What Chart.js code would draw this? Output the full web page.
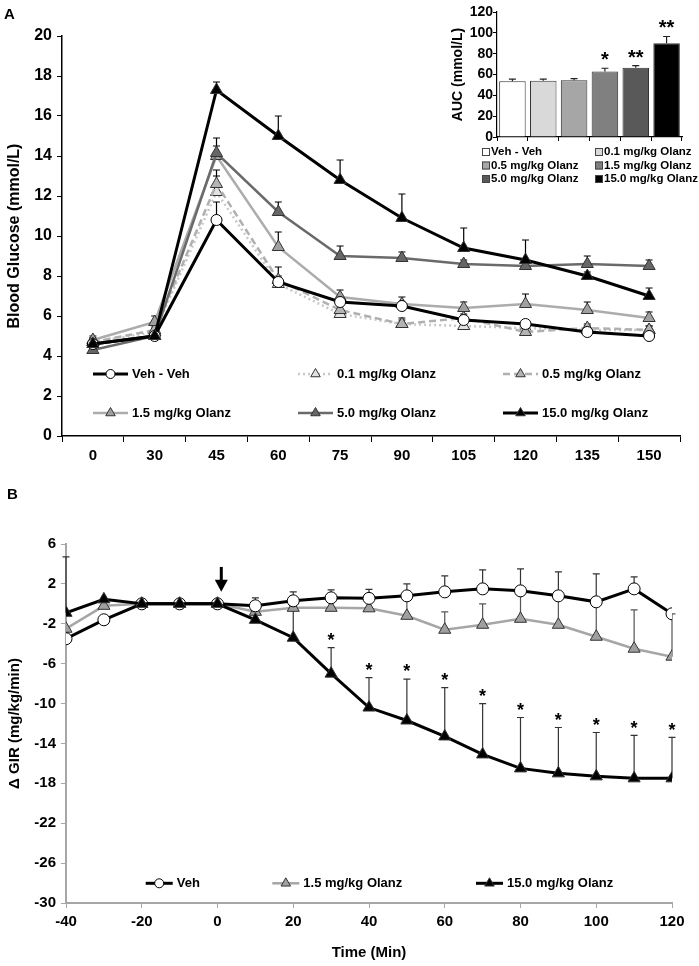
<!DOCTYPE html>
<html>
<head>
<meta charset="utf-8">
<script src="https://cdn.jsdelivr.net/npm/chart.js@4.4.0/dist/chart.umd.min.js"></script>
<style>
  body { margin: 0; background: #fff; }
  #wrap { position: relative; width: 699px; height: 966px; }
  canvas { position: absolute; }
  .lbl { position: absolute; font: bold 15px Arial, "Liberation Sans", sans-serif; line-height: 1; }
</style>
</head>
<body>
<div id="wrap">
  <canvas id="chartA" width="699" height="475" style="left:0;top:0"></canvas>
  <canvas id="chartAuc" width="259" height="195" style="left:440px;top:0"></canvas>
  <canvas id="chartB" width="699" height="491" style="left:0;top:475px"></canvas>
  <div class="lbl" style="left:4px;top:6px">A</div>
  <div class="lbl" style="left:7px;top:486px">B</div>
</div>
<script>
var FONT = 'Arial, "Liberation Sans", sans-serif';

// panel A - blood glucose
var timesA = ['0', '30', '45', '60', '75', '90', '105', '120', '135', '150'];
var vehVeh  = [4.6, 5.0, 10.8, 7.7, 6.7, 6.5, 5.8, 5.6, 5.2, 5.0];
var olz01   = [4.7, 5.2, 12.2, 7.6, 6.1, 5.6, 5.5, 5.4, 5.3, 5.3];
var olz05   = [4.7, 5.3, 12.6, 7.8, 6.3, 5.6, 5.9, 5.2, 5.4, 5.3];
var olz15   = [4.8, 5.7, 14.0, 9.45, 6.95, 6.6, 6.4, 6.6, 6.3, 5.9];
var olz50   = [4.3, 5.0, 14.15, 11.2, 9.0, 8.9, 8.6, 8.5, 8.6, 8.5];
var olz150  = [4.6, 5.0, 17.3, 15.0, 12.8, 10.9, 9.4, 8.8, 8.0, 7.0];
// top of the error bars
var vehVehErr = [4.8, 5.2, 11.7, 7.9, 6.9, 6.7, 6.0, 5.8, 5.4, 5.1];
var olz01Err  = [4.9, 5.4, 13.0, 8.0, 6.3, 5.8, 5.7, 5.6, 5.5, 5.5];
var olz05Err  = [4.9, 5.5, 13.3, 8.45, 6.6, 5.9, 6.1, 5.5, 5.6, 5.5];
var olz15Err  = [5.0, 6.0, 14.5, 10.2, 7.3, 6.95, 6.7, 7.1, 6.7, 6.2];
var olz50Err  = [4.5, 5.2, 14.9, 11.7, 9.5, 9.2, 8.8, 8.7, 9.0, 8.8];
var olz150Err = [4.8, 5.2, 17.7, 16.0, 13.8, 12.1, 10.4, 9.8, 8.2, 7.4];

// inset - AUC
var aucGroups = ['Veh - Veh', '0.1 mg/kg Olanz', '0.5 mg/kg Olanz', '1.5 mg/kg Olanz', '5.0 mg/kg Olanz', '15.0 mg/kg Olanz'];
var aucValues = [53.5, 54, 54.5, 63, 66.5, 90];
var aucErr    = [55.5, 55.5, 56, 66, 68.5, 96.5];
var aucStars  = ['', '', '', '*', '**', '**'];

// panel B - delta GIR
var timesB    = [-40, -30, -20, -10, 0, 10, 20, 30, 40, 50, 60, 70, 80, 90, 100, 110, 120];
var girVeh    = [-3.5, -1.6, 0, 0, 0, -0.2, 0.3, 0.6, 0.55, 0.8, 1.2, 1.5, 1.3, 0.8, 0.2, 1.5, -1.0];
var girVehErr = [-3.5, -1.6, 0, 0, 0, 0.6, 1.2, 1.4, 1.45, 2.0, 2.8, 3.4, 3.5, 3.2, 3.0, 2.7, -1.0];
var gir15     = [-2.5, -0.2, 0, 0, 0, -0.8, -0.4, -0.4, -0.45, -1.2, -2.6, -2.1, -1.5, -2.1, -3.3, -4.5, -5.3];
var gir15Err  = [-2.5, -0.2, 0, 0, 0, -0.8, -0.4, -0.4, -0.45, 0.8, -0.8, 0.0, 1.3, 0.8, 0.2, -0.6, -1.0];
var gir150    = [-0.9, 0.45, 0, 0, 0, -1.6, -3.4, -7.0, -10.4, -11.7, -13.3, -15.1, -16.5, -17.0, -17.3, -17.5, -17.5];
var gir150Err = [4.7, 0.45, 0, 0, 0, -1.6, -0.3, -4.4, -7.4, -7.55, -8.4, -10.0, -11.4, -12.4, -12.9, -13.2, -13.4];
var gir150Stars = ['', '', '', '', '', '', '', '*', '*', '*', '*', '*', '*', '*', '*', '*', '*'];
var arrowAt = 1, arrowFrom = 3.7, arrowTo = 1.2;

Chart.defaults.font.family = FONT;
Chart.defaults.font.weight = 'bold';
Chart.defaults.color = '#000';

function drawMark(ctx, style, x, y, r, fill, stroke) {
  ctx.beginPath();
  if (style === 'circle') {
    ctx.arc(x, y, r, 0, Math.PI * 2);
  } else {
    ctx.moveTo(x, y - r);
    ctx.lineTo(x + r * 0.866, y + r * 0.5);
    ctx.lineTo(x - r * 0.866, y + r * 0.5);
    ctx.closePath();
  }
  ctx.fillStyle = fill;
  ctx.fill();
  ctx.lineWidth = 1;
  ctx.strokeStyle = stroke;
  ctx.stroke();
}

function drawErrors(chart) {
  var ctx = chart.ctx;
  var y = chart.scales.y;
  chart.data.datasets.forEach(function(ds, i) {
    if (!ds.errTop) return;
    var meta = chart.getDatasetMeta(i);
    ctx.save();
    ctx.strokeStyle = ds.errColor || '#000';
    ctx.lineWidth = 1.2;
    meta.data.forEach(function(el, j) {
      var yt = y.getPixelForValue(ds.errTop[j]);
      if (Math.abs(yt - el.y) < 1) return;
      ctx.beginPath();
      ctx.moveTo(el.x, el.y);
      ctx.lineTo(el.x, yt);
      ctx.moveTo(el.x - 3.5, yt);
      ctx.lineTo(el.x + 3.5, yt);
      ctx.stroke();
    });
    ctx.restore();
  });
}

function drawStars(chart, size) {
  var ctx = chart.ctx;
  var y = chart.scales.y;
  chart.data.datasets.forEach(function(ds, i) {
    if (!ds.stars) return;
    var meta = chart.getDatasetMeta(i);
    ctx.save();
    ctx.font = 'bold ' + size + 'px ' + FONT;
    ctx.fillStyle = '#000';
    ctx.textAlign = 'center';
    ctx.textBaseline = 'alphabetic';
    meta.data.forEach(function(el, j) {
      if (!ds.stars[j]) return;
      ctx.fillText(ds.stars[j], el.x, y.getPixelForValue(ds.errTop[j]) - size * 0.1);
    });
    ctx.restore();
  });
}

function drawKey(ctx, ds, x, y, len) {
  ctx.save();
  ctx.strokeStyle = ds.borderColor;
  ctx.lineWidth = ds.borderWidth;
  ctx.setLineDash(ds.borderDash || []);
  ctx.beginPath();
  ctx.moveTo(x, y);
  ctx.lineTo(x + len, y);
  ctx.stroke();
  ctx.setLineDash([]);
  drawMark(ctx, ds.pointStyle, x + len / 2, y, ds.pointStyle === 'circle' ? 4.5 : 5.5, ds.pointBackgroundColor, ds.pointBorderColor);
  ctx.fillStyle = '#000';
  ctx.font = 'bold 13px ' + FONT;
  ctx.textBaseline = 'middle';
  ctx.textAlign = 'left';
  ctx.fillText(ds.label, x + len + 4, y);
  ctx.restore();
}

function lineSet(label, data, err, color, dash, style, fill, order) {
  return {
    label: label, data: data, errTop: err, order: order,
    borderColor: color, borderWidth: color === '#000' ? 3 : 2.5, borderDash: dash,
    pointStyle: style, pointRadius: style === 'circle' ? 5.5 : 7,
    pointBackgroundColor: fill, pointBorderColor: style === 'circle' ? '#000' : '#333',
    pointBorderWidth: 1, tension: 0, errColor: '#000'
  };
}

function getChartA() {
  var keyX = [93, 298, 503];
  var keyY = [374, 413];
  var ctx = document.getElementById('chartA').getContext('2d');
  new Chart(ctx, {
    type: 'line',
    data: {
      labels: timesA,
      datasets: [
        lineSet('Veh - Veh', vehVeh, vehVehErr, '#000', [], 'circle', '#fff', 1),
        lineSet('0.1 mg/kg Olanz', olz01, olz01Err, '#c8c8c8', [2, 3], 'triangle', '#e2e2e2', 5),
        lineSet('0.5 mg/kg Olanz', olz05, olz05Err, '#b0b0b0', [7, 4], 'triangle', '#b4b4b4', 4),
        lineSet('1.5 mg/kg Olanz', olz15, olz15Err, '#acacac', [], 'triangle', '#a0a0a0', 3),
        lineSet('5.0 mg/kg Olanz', olz50, olz50Err, '#6a6a6a', [], 'triangle', '#666', 2),
        lineSet('15.0 mg/kg Olanz', olz150, olz150Err, '#000', [], 'triangle', '#000', 0)
      ]
    },
    options: {
      responsive: false,
      animation: false,
      events: [],
      layout: {padding: {top: 36, right: 19, left: 0, bottom: 0}},
      plugins: {legend: {display: false}, tooltip: {enabled: false}},
      scales: {
        x: {
          offset: true,
          grid: {offset: true, drawOnChartArea: false, color: '#000', tickLength: 6},
          border: {color: '#000', width: 1.5},
          ticks: {font: {size: 15, weight: 'bold'}, color: '#000', padding: 5, maxRotation: 0},
          afterFit: function(s) { s.height = 39; }
        },
        y: {
          min: 0, max: 20,
          ticks: {stepSize: 2, font: {size: 16, weight: 'bold'}, color: '#000', padding: 5},
          grid: {drawOnChartArea: false, color: '#000', tickLength: 5},
          border: {color: '#000', width: 1.5},
          title: {display: true, text: 'Blood Glucose (mmol/L)', font: {size: 16, weight: 'bold'}, color: '#000', padding: {top: 5, bottom: 0}},
          afterFit: function(s) { s.width = 62; }
        }
      }
    },
    plugins: [{
      id: 'extrasA',
      beforeDatasetsDraw: function(chart) { drawErrors(chart); },
      afterDraw: function(chart) {
        chart.data.datasets.forEach(function(ds, i) {
          drawKey(chart.ctx, ds, keyX[i % 3], keyY[Math.floor(i / 3)], 35);
        });
      }
    }]
  });
}

function getChartAuc() {
  var colors = ['#ffffff', '#d9d9d9', '#a6a6a6', '#808080', '#595959', '#000000'];
  var keyX = [42, 155];
  var keyY = [152, 165.5, 179];
  var ctx = document.getElementById('chartAuc').getContext('2d');
  new Chart(ctx, {
    type: 'bar',
    data: {
      labels: aucGroups,
      datasets: [{
        label: 'AUC',
        data: aucValues,
        errTop: aucErr,
        stars: aucStars,
        errColor: '#222',
        backgroundColor: colors,
        borderColor: '#333',
        borderWidth: 1,
        categoryPercentage: 1,
        barPercentage: 0.86
      }]
    },
    options: {
      responsive: false,
      animation: false,
      events: [],
      layout: {padding: {top: 12, right: 17, left: 0, bottom: 0}},
      plugins: {legend: {display: false}, tooltip: {enabled: false}},
      scales: {
        x: {
          grid: {offset: true, drawOnChartArea: false, color: '#000', tickLength: 4},
          border: {color: '#000', width: 1.2},
          ticks: {display: false},
          afterFit: function(s) { s.height = 58; }
        },
        y: {
          min: 0, max: 120,
          ticks: {stepSize: 20, font: {size: 14, weight: 'bold'}, color: '#000', padding: 0},
          grid: {drawOnChartArea: false, color: '#000', tickLength: 4},
          border: {color: '#000', width: 1.2},
          title: {display: true, text: 'AUC (mmol/L)', font: {size: 14, weight: 'bold'}, color: '#000', padding: {top: 10, bottom: 0}},
          afterFit: function(s) { s.width = 57; }
        }
      }
    },
    plugins: [{
      id: 'extrasAuc',
      afterDatasetsDraw: function(chart) {
        drawErrors(chart);
        drawStars(chart, 20);
        var c = chart.ctx;
        c.save();
        c.font = 'bold 11.5px ' + FONT;
        c.textBaseline = 'middle';
        aucGroups.forEach(function(g, i) {
          var x = keyX[i % 2], y = keyY[Math.floor(i / 2)];
          c.fillStyle = colors[i];
          c.fillRect(x, y - 4, 8, 8);
          c.strokeStyle = '#444';
          c.lineWidth = 1;
          c.strokeRect(x + 0.5, y - 3.5, 7, 7);
          c.fillStyle = '#000';
          c.fillText(g, x + 9, y);
        });
        c.restore();
      }
    }]
  });
}

function getChartB() {
  var keyX = [145.7, 272.3, 476];
  var keyY = 408.3;
  var pts = function(vals) {
    return timesB.map(function(t, i) { return {x: t, y: vals[i]}; });
  };
  var veh = lineSet('Veh', pts(girVeh), girVehErr, '#000', [], 'circle', '#fff', 1);
  veh.pointRadius = 6;
  veh.errColor = '#333';
  var o15 = lineSet('1.5 mg/kg Olanz', pts(gir15), gir15Err, '#a6a6a6', [], 'triangle', '#a0a0a0', 2);
  o15.errColor = '#555';
  var o150 = lineSet('15.0 mg/kg Olanz', pts(gir150), gir150Err, '#000', [], 'triangle', '#000', 0);
  o150.errColor = '#333';
  o150.stars = gir150Stars;

  var ctx = document.getElementById('chartB').getContext('2d');
  new Chart(ctx, {
    type: 'line',
    data: {datasets: [veh, o15, o150]},
    options: {
      responsive: false,
      animation: false,
      events: [],
      layout: {padding: {top: 69, right: 27, left: 0, bottom: 0}},
      plugins: {legend: {display: false}, tooltip: {enabled: false}},
      scales: {
        x: {
          type: 'linear', min: -40, max: 120,
          ticks: {stepSize: 20, font: {size: 15, weight: 'bold'}, color: '#000', padding: 5},
          grid: {drawOnChartArea: false, color: '#a6a6a6', tickLength: 5},
          border: {color: '#a6a6a6', width: 2},
          title: {display: true, text: 'Time (Min)', font: {size: 15, weight: 'bold'}, color: '#000'},
          afterFit: function(s) { s.height = 63; }
        },
        y: {
          min: -30, max: 6,
          ticks: {stepSize: 4, font: {size: 15, weight: 'bold'}, color: '#000', padding: 5},
          grid: {drawOnChartArea: false, color: '#a6a6a6', tickLength: 5},
          border: {color: '#a6a6a6', width: 2},
          title: {display: true, text: '\u0394 GIR (mg/kg/min)', font: {size: 15, weight: 'bold'}, color: '#000', padding: {top: 6, bottom: 0}},
          afterFit: function(s) { s.width = 66; }
        }
      }
    },
    plugins: [{
      id: 'extrasB',
      beforeDatasetsDraw: function(chart) { drawErrors(chart); },
      afterDatasetsDraw: function(chart) {
        drawStars(chart, 18);
        // arrow marking the drug injection
        var c = chart.ctx;
        var ax = chart.scales.x.getPixelForValue(arrowAt);
        var y0 = chart.scales.y.getPixelForValue(arrowFrom);
        var y1 = chart.scales.y.getPixelForValue(arrowTo);
        c.save();
        c.fillStyle = '#000';
        c.fillRect(ax - 1.5, y0, 3, y1 - y0 - 10);
        c.beginPath();
        c.moveTo(ax - 6.5, y1 - 12);
        c.lineTo(ax + 6.5, y1 - 12);
        c.lineTo(ax, y1);
        c.closePath();
        c.fill();
        c.restore();
      },
      afterDraw: function(chart) {
        chart.data.datasets.forEach(function(ds, i) {
          drawKey(chart.ctx, ds, keyX[i], keyY, 27);
        });
      }
    }]
  });
}

function init() {
  getChartA();
  getChartAuc();
  getChartB();
}

init();
</script>
</body>
</html>
